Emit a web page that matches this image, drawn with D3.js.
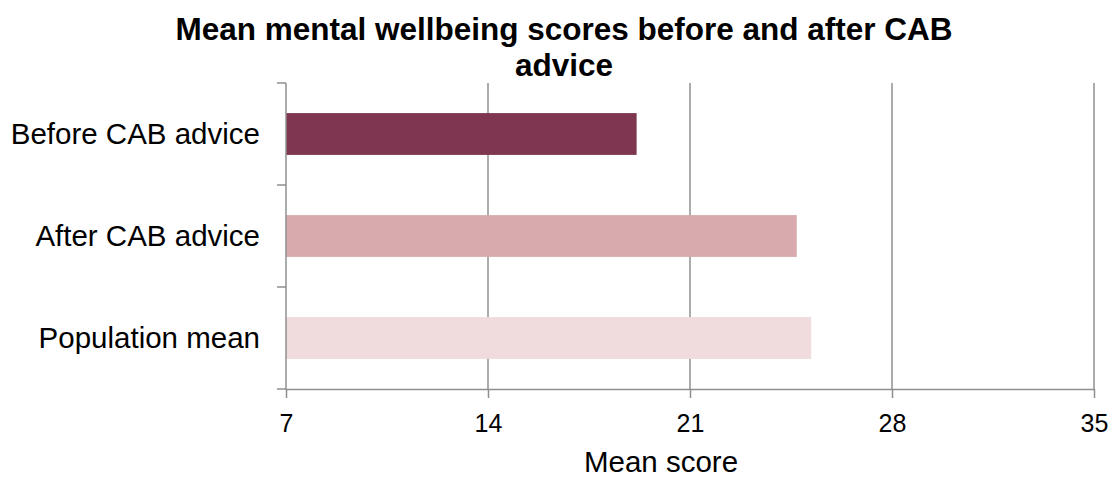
<!DOCTYPE html>
<html><head><meta charset="utf-8">
<script src="https://cdn.jsdelivr.net/npm/d3@7"></script>
<style>body{margin:0;background:#fff;} text{font-family:"Liberation Sans",Arial,sans-serif;}</style>
</head><body>
<svg id="c" width="1117" height="481"></svg>
<script>
const categories = ["Before CAB advice", "After CAB advice", "Population mean"];
const values = [19.15, 24.7, 25.2];
const colors = ["#7F3650", "#D9AAAD", "#F0DCDC"];
const xTicks = [7, 14, 21, 28, 35];
const titleLines = ["Mean mental wellbeing scores before and after CAB", "advice"];
const xTitle = "Mean score";

const svg = d3.select("#c");
const L = 286, R = 1094, T = 83, B = 389;
const x = d3.scaleLinear().domain([7, 35]).range([L, R]);
const y = d3.scaleBand().domain(categories).range([T, B]).paddingInner(0.59).paddingOuter(0.295);

// gridlines
svg.append("g").selectAll("line").data(xTicks.slice(1)).join("line")
  .attr("x1", d => x(d)).attr("x2", d => x(d)).attr("y1", T).attr("y2", B)
  .attr("stroke", "#8f8f8f").attr("stroke-width", 1.5);

// bars
svg.append("g").selectAll("rect").data(values).join("rect")
  .attr("x", x(7)).attr("y", (d, i) => y(categories[i]))
  .attr("width", d => x(d) - x(7)).attr("height", y.bandwidth())
  .attr("fill", (d, i) => colors[i]);

// x axis
const xa = svg.append("g").attr("transform", `translate(0,${B})`)
  .call(d3.axisBottom(x).tickValues(xTicks).tickSize(9).tickPadding(16.5).tickSizeOuter(0));
xa.select(".domain").attr("stroke", "#8f8f8f").attr("stroke-width", 1.5);
xa.selectAll(".tick line").attr("stroke", "#8f8f8f").attr("stroke-width", 1.5);
xa.selectAll("text").attr("font-size", 25).attr("fill", "#000")
  .style("font-family", '"Liberation Sans",Arial,sans-serif');

// y axis: ticks at band boundaries
const bounds = [T, T + (B - T) / 3, T + 2 * (B - T) / 3, B];
svg.append("line").attr("x1", L).attr("x2", L).attr("y1", T).attr("y2", B)
  .attr("stroke", "#8f8f8f").attr("stroke-width", 1.5);
svg.append("g").selectAll("line").data(bounds).join("line")
  .attr("x1", L - 9).attr("x2", L).attr("y1", d => d).attr("y2", d => d)
  .attr("stroke", "#8f8f8f").attr("stroke-width", 1.5);
svg.append("g").selectAll("text").data(categories).join("text")
  .attr("x", 260).attr("y", d => y(d) + y.bandwidth() / 2)
  .attr("dy", "0.35em").attr("text-anchor", "end")
  .attr("font-size", 29.5).attr("fill", "#000").text(d => d);

// title
svg.append("g").selectAll("text").data(titleLines).join("text")
  .attr("x", 564).attr("y", (d, i) => 40 + i * 36)
  .attr("text-anchor", "middle").attr("font-size", 31.5).attr("font-weight", "bold")
  .attr("fill", "#000").text(d => d);

// x title
svg.append("text").attr("x", 661).attr("y", 472).attr("text-anchor", "middle")
  .attr("font-size", 29.5).attr("fill", "#000").text(xTitle);
</script>
</body></html>
